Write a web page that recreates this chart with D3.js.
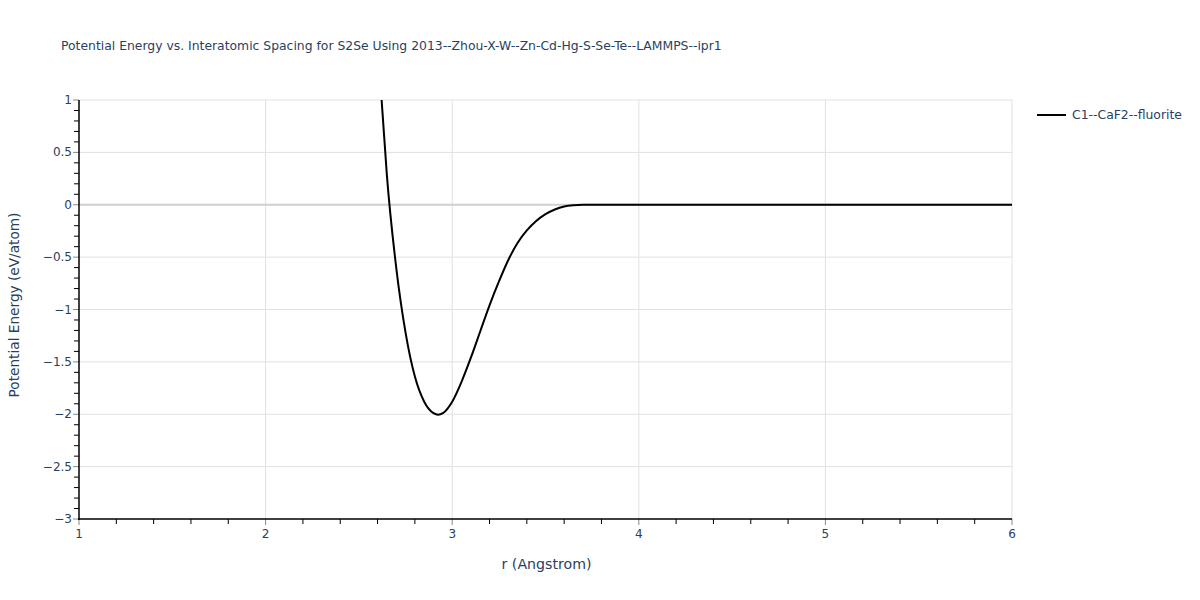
<!DOCTYPE html>
<html>
<head>
<meta charset="utf-8">
<script src="https://cdn.jsdelivr.net/npm/d3@7"></script>
<style>
  body { margin: 0; background: #fff; }
  svg { font-family: "DejaVu Sans", verdana, arial, sans-serif; }
</style>
</head>
<body>
<svg id="chart" width="1200" height="600"></svg>
<script>
const titleText = "Potential Energy vs. Interatomic Spacing for S2Se Using 2013--Zhou-X-W--Zn-Cd-Hg-S-Se-Te--LAMMPS--ipr1";
const seriesName = "C1--CaF2--fluorite";
const xTitle = "r (Angstrom)";
const yTitle = "Potential Energy (eV/atom)";
const rValues = [2.60, 2.62, 2.65, 2.70, 2.75, 2.80, 2.85, 2.90, 2.925, 2.95, 3.00, 3.05, 3.10, 3.15, 3.20, 3.25, 3.30, 3.35, 3.40, 3.45, 3.50, 3.55, 3.60, 3.65, 3.70, 3.80, 4.00, 4.50, 5.00, 5.50, 6.00];
const energyValues = [1.6, 1.05, 0.28, -0.60, -1.22, -1.64, -1.88, -1.99, -2.005, -1.99, -1.88, -1.69, -1.46, -1.21, -0.96, -0.735, -0.53, -0.365, -0.245, -0.155, -0.09, -0.045, -0.016, -0.004, 0, 0, 0, 0, 0, 0, 0];
const xTicks = [1, 2, 3, 4, 5, 6];
const yTicks = [1, 0.5, 0, -0.5, -1, -1.5, -2, -2.5, -3];

(function () {
const svg = d3.select("#chart");
const pL = 79, pR = 1012, pT = 100, pB = 519;
const x = d3.scaleLinear().domain([1, 6]).range([pL, pR]);
const y = d3.scaleLinear().domain([-3, 1]).range([pB, pT]);
const textColor = "#2a3f5f";
const fmt = v => (v < 0 ? "\u2212" + Math.abs(v) : String(v));

// size a text so that it spans a given width
function fit(sel, width) {
  const base = 12;
  sel.attr("font-size", base);
  const w = sel.node().getComputedTextLength();
  if (w > 0) sel.attr("font-size", (base * width / w).toFixed(2));
  return sel;
}

// grid
const grid = svg.append("g");
grid.selectAll("line.vx").data(xTicks.filter(t => t !== 1)).enter().append("line")
  .attr("x1", d => x(d)).attr("x2", d => x(d)).attr("y1", pT).attr("y2", pB)
  .attr("stroke", "#e1e1e1").attr("stroke-width", 1);
grid.selectAll("line.hy").data(yTicks.filter(t => t !== -3 && t !== 0)).enter().append("line")
  .attr("x1", pL).attr("x2", pR).attr("y1", d => y(d)).attr("y2", d => y(d))
  .attr("stroke", "#e1e1e1").attr("stroke-width", 1);
grid.append("line").attr("x1", pL).attr("x2", pR).attr("y1", y(0)).attr("y2", y(0))
  .attr("stroke", "#cfcfcf").attr("stroke-width", 2);

// clip
svg.append("clipPath").attr("id", "clip").append("rect")
  .attr("x", pL).attr("y", pT).attr("width", pR - pL).attr("height", pB - pT);

const data = rValues.map((r, i) => [r, energyValues[i]]);
const line = d3.line().x(d => x(d[0])).y(d => y(d[1])).curve(d3.curveMonotoneX);
svg.append("path").datum(data).attr("clip-path", "url(#clip)")
  .attr("d", line).attr("fill", "none").attr("stroke", "#000").attr("stroke-width", 2);

// minor ticks
const xMinor = d3.range(1, 6.001, 0.2).map(v => +v.toFixed(2)).filter(v => !xTicks.includes(v));
const yMinor = d3.range(-3, 1.001, 0.1).map(v => +v.toFixed(2)).filter(v => !yTicks.includes(v));
svg.selectAll("line.xmin").data(xMinor).enter().append("line")
  .attr("x1", d => x(d)).attr("x2", d => x(d)).attr("y1", pB).attr("y2", pB + 5)
  .attr("stroke", "#000").attr("stroke-width", 1);
svg.selectAll("line.ymin").data(yMinor).enter().append("line")
  .attr("x1", pL - 5).attr("x2", pL).attr("y1", d => y(d)).attr("y2", d => y(d))
  .attr("stroke", "#000").attr("stroke-width", 1);
// major ticks
svg.selectAll("line.xmaj").data(xTicks).enter().append("line")
  .attr("x1", d => x(d)).attr("x2", d => x(d)).attr("y1", pB).attr("y2", pB + 6)
  .attr("stroke", "#888").attr("stroke-width", 1);
svg.selectAll("line.ymaj").data(yTicks).enter().append("line")
  .attr("x1", pL - 6).attr("x2", pL).attr("y1", d => y(d)).attr("y2", d => y(d))
  .attr("stroke", "#888").attr("stroke-width", 1);

// axis lines
svg.append("line").attr("x1", pL).attr("x2", pL).attr("y1", pT).attr("y2", pB + 1)
  .attr("stroke", "#000").attr("stroke-width", 1.5);
svg.append("line").attr("x1", pL - 1).attr("x2", pR).attr("y1", pB).attr("y2", pB)
  .attr("stroke", "#000").attr("stroke-width", 1.5);

// tick labels
svg.selectAll("text.xl").data(xTicks).enter().append("text")
  .attr("x", d => x(d)).attr("y", pB + 19).attr("text-anchor", "middle")
  .attr("font-size", 12).attr("fill", textColor).text(fmt);
svg.selectAll("text.yl").data(yTicks).enter().append("text")
  .attr("x", pL - 7).attr("y", d => y(d) + 4).attr("text-anchor", "end")
  .attr("font-size", 12).attr("fill", textColor).text(fmt);

// titles
fit(svg.append("text").attr("x", 61).attr("y", 50)
  .attr("fill", textColor).text(titleText), 661);
fit(svg.append("text").attr("x", 546.5).attr("y", 569).attr("text-anchor", "middle")
  .attr("fill", textColor).text(xTitle), 90);
fit(svg.append("text").attr("transform", "translate(19,305) rotate(-90)")
  .attr("text-anchor", "middle").attr("fill", textColor)
  .text(yTitle), 185);

// legend
svg.append("line").attr("x1", 1037).attr("x2", 1066).attr("y1", 115).attr("y2", 115)
  .attr("stroke", "#000").attr("stroke-width", 2);
fit(svg.append("text").attr("x", 1072).attr("y", 119)
  .attr("fill", textColor).text(seriesName), 110);
})();
</script>
</body>
</html>
